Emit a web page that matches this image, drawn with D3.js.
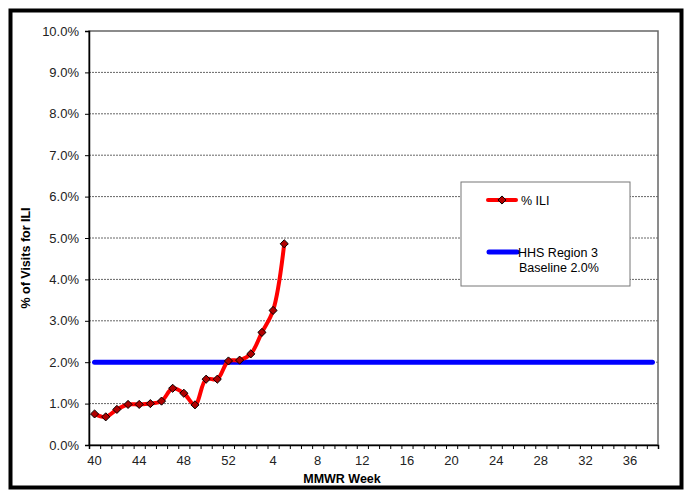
<!DOCTYPE html>
<html>
<head>
<meta charset="utf-8">
<script src="https://cdn.jsdelivr.net/npm/d3@7"></script>
<style>
  body { margin: 0; background: #fff; }
  text { font-family: "Liberation Sans", Arial, sans-serif; }
</style>
</head>
<body>
<div id="chart"></div>
<script>
// MMWR weeks shown on the category axis
const weeks = ["40", "41", "42", "43", "44", "45", "46", "47", "48", "49", "50", "51", "52",
    "1", "2", "3", "4", "5", "6", "7", "8", "9", "10", "11", "12", "13", "14", "15", "16",
    "17", "18", "19", "20", "21", "22", "23", "24", "25", "26", "27", "28", "29", "30",
    "31", "32", "33", "34", "35", "36", "37", "38"];
const weekLabels = ["40", "44", "48", "52", "4", "8", "12", "16", "20", "24", "28", "32", "36"];
// % ILI, weeks 40 .. 5
const iliValues = [0.75, 0.68, 0.86, 0.98, 0.98, 1.00, 1.06, 1.37, 1.25, 0.97, 1.59, 1.59,
    2.03, 2.05, 2.20, 2.72, 3.25, 4.86];
const baselineValue = 2.0;
const yTicks = [0, 1, 2, 3, 4, 5, 6, 7, 8, 9, 10];

const W = 694, H = 500;
const margin = {top: 31, right: 36, bottom: 55, left: 89},
    width = W - margin.left - margin.right,
    height = H - margin.top - margin.bottom;

const root = d3.select("#chart").append("svg")
    .attr("width", W)
    .attr("height", H);

// outer frame
root.append("rect")
    .attr("x", 10.5).attr("y", 10.5)
    .attr("width", 671).attr("height", 477)
    .attr("fill", "#fff")
    .attr("stroke", "#000")
    .attr("stroke-width", 4);

const svg = root.append("g")
    .attr("transform", "translate(" + margin.left + "," + margin.top + ")");

const x = d3.scaleBand()
    .domain(weeks)
    .range([0, width])
    .padding(0);
const xEdge = d3.scaleLinear()
    .domain([0, weeks.length])
    .range([0, width]);
const y = d3.scaleLinear()
    .domain([0, 10])
    .range([height, 0]);
const cx = d => x(d) + x.bandwidth() / 2;

// gridlines
svg.append("g")
    .selectAll("line")
    .data(yTicks.filter(d => d > 0 && d < 10))
    .join("line")
    .attr("x1", 0).attr("x2", width)
    .attr("y1", d => y(d)).attr("y2", d => y(d))
    .attr("stroke", "#666")
    .attr("stroke-width", 1)
    .attr("stroke-dasharray", "2,1");

// plot border (top / right)
svg.append("rect")
    .attr("width", width).attr("height", height)
    .attr("fill", "none")
    .attr("stroke", "#666")
    .attr("stroke-width", 1.5);

// y axis
const yAxis = svg.append("g")
    .call(d3.axisLeft(y).tickValues(yTicks).tickSize(4).tickPadding(6)
        .tickFormat(d => d.toFixed(1) + "%"));
yAxis.select(".domain").attr("stroke", "#000").attr("stroke-width", 1.5);
yAxis.selectAll("text").attr("font-size", 13).attr("fill", "#222")
    .style("font-family", "'Liberation Sans', Arial, sans-serif");

// x axis: tick marks between categories
const xTickAxis = svg.append("g")
    .attr("transform", `translate(0, ${height})`)
    .call(d3.axisBottom(xEdge).tickValues(d3.range(weeks.length + 1)).tickSize(4).tickFormat(""));
xTickAxis.select(".domain").attr("stroke", "#000").attr("stroke-width", 1.5);

// x axis labels
const xLabelAxis = svg.append("g")
    .attr("transform", `translate(0, ${height})`)
    .call(d3.axisBottom(x).tickValues(weeks.filter((d, i) => i % 4 === 0 && weekLabels.includes(d)))
        .tickSize(0).tickPadding(11));
xLabelAxis.select(".domain").remove();
xLabelAxis.selectAll("text").attr("font-size", 13).attr("fill", "#222")
    .style("font-family", "'Liberation Sans', Arial, sans-serif");

// baseline series
const baseLine = d3.line()
    .x(d => cx(d))
    .y(() => y(baselineValue));
svg.append("path")
    .datum(weeks)
    .attr("d", baseLine)
    .attr("fill", "none")
    .attr("stroke", "#0000ff")
    .attr("stroke-width", 5)
    .attr("stroke-linecap", "round");

// ILI series
const iliData = iliValues.map((v, i) => ({week: weeks[i], value: v}));
const iliLine = d3.line()
    .x(d => cx(d.week))
    .y(d => y(d.value))
    .curve(d3.curveCatmullRom.alpha(0.5));
svg.append("path")
    .datum(iliData)
    .attr("d", iliLine)
    .attr("fill", "none")
    .attr("stroke", "#ff0000")
    .attr("stroke-width", 4)
    .attr("stroke-linejoin", "round");

const diamond = d3.symbol().type(d3.symbolDiamond2).size(42);
svg.append("g")
    .selectAll("path")
    .data(iliData)
    .join("path")
    .attr("d", diamond)
    .attr("transform", d => `translate(${cx(d.week)},${y(d.value)})`)
    .attr("fill", "#b00000")
    .attr("stroke", "#000")
    .attr("stroke-width", 1);

// axis titles
root.append("text")
    .attr("transform", "translate(30,258) rotate(-90)")
    .attr("text-anchor", "middle")
    .attr("font-size", 12.5)
    .attr("font-weight", "bold")
    .text("% of Visits for ILI");
root.append("text")
    .attr("x", 342).attr("y", 483)
    .attr("text-anchor", "middle")
    .attr("font-size", 12.5)
    .attr("font-weight", "bold")
    .text("MMWR Week");

// legend
const legend = root.append("g").attr("transform", "translate(461,182)");
legend.append("rect")
    .attr("width", 169).attr("height", 104)
    .attr("fill", "#fff")
    .attr("stroke", "#777")
    .attr("stroke-width", 1);
legend.append("line")
    .attr("x1", 27).attr("x2", 55).attr("y1", 18).attr("y2", 18)
    .attr("stroke", "#ff0000").attr("stroke-width", 4).attr("stroke-linecap", "round");
legend.append("path")
    .attr("d", diamond)
    .attr("transform", "translate(41,18)")
    .attr("fill", "#b00000").attr("stroke", "#000");
legend.append("text")
    .attr("x", 60).attr("y", 22.5)
    .attr("font-size", 12.5)
    .text("% ILI");
legend.append("line")
    .attr("x1", 28).attr("x2", 56).attr("y1", 70).attr("y2", 70)
    .attr("stroke", "#0000ff").attr("stroke-width", 5).attr("stroke-linecap", "round");
legend.append("text")
    .attr("x", 57).attr("y", 74.5)
    .attr("font-size", 12.5)
    .text("HHS Region 3");
legend.append("text")
    .attr("x", 58).attr("y", 90)
    .attr("font-size", 12.5)
    .text("Baseline 2.0%");
</script>
</body>
</html>
